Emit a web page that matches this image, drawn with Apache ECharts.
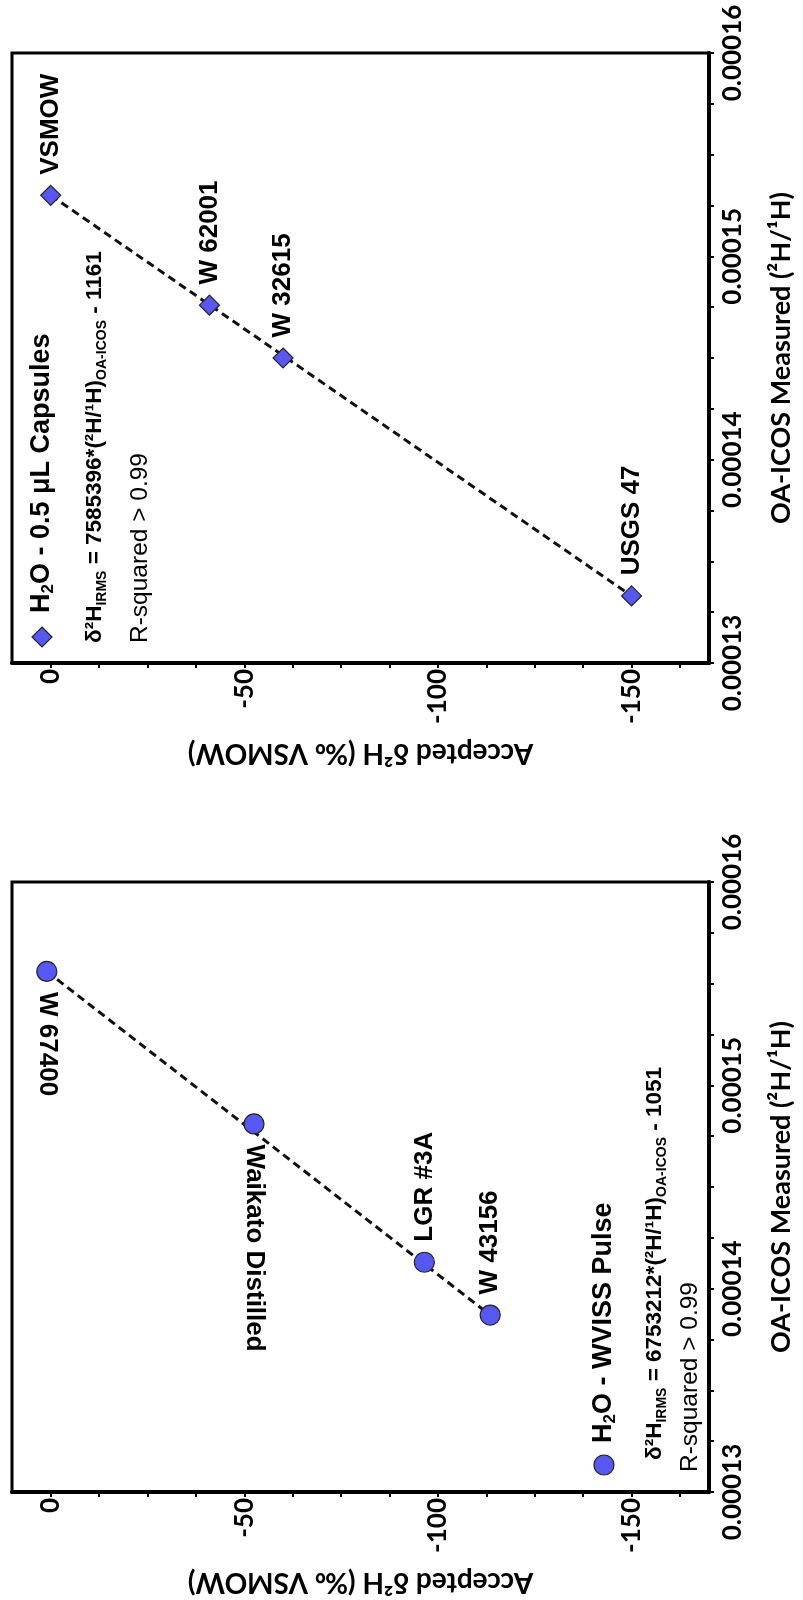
<!DOCTYPE html>
<html>
<head>
<meta charset="utf-8">
<script src="https://cdn.jsdelivr.net/npm/echarts@6/dist/echarts.min.js"></script>
<style>
  html, body { margin: 0; padding: 0; background: #fff; }
  #chart { width: 803px; height: 1600px; }
</style>
</head>
<body>
<div id="chart"></div>
<script>
// panel 1: 0.5 uL capsules
const capsuleNames = ['VSMOW', 'W 62001', 'W 32615', 'USGS 47']
const capsuleDelta = [0, -41, -60, -150]
const capsuleRatio = [0.0001530, 0.0001476, 0.0001450, 0.0001333]
// panel 2: WVISS pulse
const pulseNames = ['W 67400', 'Waikato Distilled', 'LGR #3A', 'W 43156']
const pulseDelta = [1, -52.5, -96.5, -113.5]
const pulseRatio = [0.0001556, 0.0001481, 0.0001413, 0.0001387]
// regression line ends
const capsuleFitDelta = [0, -150]
const capsuleFitRatio = [0.0001530, 0.0001333]
const pulseFitDelta = [1, -113.5]
const pulseFitRatio = [0.0001556, 0.0001387]

// axis ticks
const deltaTicks = [0, -12.5, -25, -37.5, -50, -62.5, -75, -87.5, -100, -112.5, -125, -137.5, -150, -162.5]
const deltaLabels = [0, -50, -100, -150]
const ratioTicks = [0.00013, 0.0001325, 0.000135, 0.0001375, 0.00014, 0.0001425, 0.000145, 0.0001475,
  0.00015, 0.0001525, 0.000155, 0.0001575, 0.00016]
const ratioLabels = [0.00013, 0.00014, 0.00015, 0.00016]

const BLUE = '#5757f2'
const AXFONT = "Lato, 'Open Sans', sans-serif"
const TXFONT = "'Liberation Sans', Arial, sans-serif"

let chart = echarts.init(document.getElementById('chart'), null, { renderer: 'canvas' })

function makeX(idx) {
  return {
    type: 'value', gridIndex: idx, min: -170, max: 10, inverse: true, position: 'bottom',
    axisLine: { show: true, onZero: false, lineStyle: { color: '#000', width: 4 } },
    axisTick: { show: true, customValues: deltaTicks, length: 5, lineStyle: { color: '#000', width: 2 } },
    axisLabel: {
      customValues: deltaLabels, rotate: 90, margin: 6,
      fontFamily: AXFONT, fontWeight: 'bold', fontSize: 26, color: '#000',
    },
    splitLine: { show: false },
    name: 'Accepted δ²H (‰ VSMOW)',
    nameLocation: 'middle', nameGap: 76, nameRotate: 180,
    nameTextStyle: { fontFamily: AXFONT, fontWeight: 'bold', fontSize: 28, color: '#000' },
  }
}
function makeY(idx) {
  return {
    type: 'value', gridIndex: idx, min: 0.00013, max: 0.00016, position: 'right',
    axisLine: { show: true, onZero: false, lineStyle: { color: '#000', width: 4 } },
    axisTick: { show: true, customValues: ratioTicks, length: 5, lineStyle: { color: '#000', width: 2 } },
    axisLabel: {
      customValues: ratioLabels, rotate: 90, margin: 11,
      formatter: (v) => v.toFixed(5),
      fontFamily: AXFONT, fontWeight: 'bold', fontSize: 26, color: '#000',
    },
    splitLine: { show: false },
    name: 'OA-ICOS Measured (²H/¹H)',
    nameLocation: 'middle', nameGap: 59, nameRotate: 90,
    nameTextStyle: { fontFamily: AXFONT, fontWeight: 'bold', fontSize: 27, color: '#000' },
  }
}

// which point labels sit below their marker
const labelBelow = { 'W 67400': true, 'Waikato Distilled': true }

function pointSeries(idx, names, xs, ys, symbol) {
  return {
    type: 'scatter', xAxisIndex: idx, yAxisIndex: idx, z: 5,
    symbol: symbol, symbolSize: 20,
    itemStyle: { color: BLUE, borderColor: '#222', borderWidth: 1.2, opacity: 1 },
    data: xs.map((x, i) => {
      let below = labelBelow[names[i]]
      return {
        value: [x, ys[i]],
        name: names[i],
        label: below
          ? { position: 'bottom', rotate: -90 }
          : { position: 'top', rotate: 90 },
      }
    }),
    label: {
      show: true, formatter: '{b}', align: 'left', verticalAlign: 'middle', distance: 10,
      fontFamily: TXFONT, fontWeight: 'bold', fontSize: 26, color: '#000',
    },
    emphasis: { disabled: true },
  }
}
function fitSeries(idx, xs, ys) {
  return {
    type: 'line', xAxisIndex: idx, yAxisIndex: idx, z: 3, symbol: 'none', silent: true,
    lineStyle: { color: '#111', width: 3, type: [8, 5] },
    data: xs.map((x, i) => [x, ys[i]]),
  }
}

const rich = {
  n: { fontFamily: TXFONT, fontSize: 24.5, color: '#000', lineHeight: 28 },
  b: { fontFamily: TXFONT, fontWeight: 'bold', fontSize: 22.5, color: '#000', lineHeight: 28 },
  s: { fontFamily: TXFONT, fontWeight: 'bold', fontSize: 14, color: '#000', lineHeight: 14, verticalAlign: 'bottom' },
  t: { fontFamily: TXFONT, fontWeight: 'bold', fontSize: 27, color: '#000', lineHeight: 30 },
  ts: { fontFamily: TXFONT, fontWeight: 'bold', fontSize: 17, color: '#000', lineHeight: 16, verticalAlign: 'bottom' },
}
function vtext(x, y, text) {
  return {
    type: 'text', x: x, y: y, rotation: Math.PI / 2,
    style: { text: text, rich: rich, align: 'left', verticalAlign: 'middle', fill: '#000' },
  }
}

let option = {
  animation: false,
  backgroundColor: '#fff',
  grid: [
    { left: 12, top: 53, width: 708, height: 610, show: true, borderColor: '#000', borderWidth: 3, containLabel: false },
    { left: 12, top: 882, width: 708, height: 610, show: true, borderColor: '#000', borderWidth: 3, containLabel: false },
  ],
  xAxis: [makeX(0), makeX(1)],
  yAxis: [makeY(0), makeY(1)],
  series: [
    fitSeries(0, capsuleFitDelta, capsuleFitRatio),
    pointSeries(0, capsuleNames, capsuleDelta, capsuleRatio, 'diamond'),
    fitSeries(1, pulseFitDelta, pulseFitRatio),
    pointSeries(1, pulseNames, pulseDelta, pulseRatio, 'circle'),
  ],
  graphic: [
    // legend, panel 1
    { type: 'polygon', shape: { points: [[0, -10], [10, 0], [0, 10], [-10, 0]] }, x: 42, y: 637,
      style: { fill: BLUE, stroke: '#222', lineWidth: 1.2 } },
    vtext(42, 613, '{t|H}{ts|2}{t|O - 0.5 μL Capsules}'),
    vtext(95, 643, '{b|δ²H}{s|IRMS}{b| = 7585396*(²H/¹H)}{s|OA-ICOS}{b| - 1161}'),
    vtext(140, 643, '{n|R-squared > 0.99}'),
    // legend, panel 2
    { type: 'circle', shape: { cx: 0, cy: 0, r: 10 }, x: 604, y: 1465,
      style: { fill: BLUE, stroke: '#222', lineWidth: 1.2 } },
    vtext(604, 1443, '{t|H}{ts|2}{t|O - WVISS Pulse}'),
    vtext(655, 1460, '{b|δ²H}{s|IRMS}{b| = 6753212*(²H/¹H)}{s|OA-ICOS}{b| - 1051}'),
    vtext(690, 1472, '{n|R-squared > 0.99}'),
  ],
}
chart.setOption(option)
</script>
</body>
</html>
